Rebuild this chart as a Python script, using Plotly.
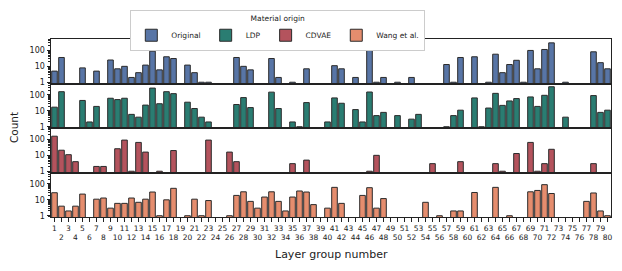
import plotly.graph_objects as go
from plotly.subplots import make_subplots

layer_groups = list(range(1, 81))
series_names = ["Original", "LDP", "CDVAE", "Wang et al."]
series_colors = ["#5875a6", "#2a7d72", "#b4535d", "#e58d6e"]

original_counts = {1: 5, 2: 36, 5: 8, 7: 5, 9: 25, 10: 7, 11: 10, 12: 2, 13: 4, 14: 12, 15: 90,
                   16: 6, 17: 40, 18: 31, 20: 12, 21: 4, 22: 1, 23: 1, 27: 36, 28: 10, 29: 6,
                   32: 31, 33: 2, 35: 1, 37: 7, 41: 11, 42: 7, 44: 2, 46: 200, 47: 1, 48: 2,
                   50: 1, 52: 2, 57: 13, 58: 1, 59: 36, 61: 40, 63: 1, 64: 58, 65: 4, 66: 13,
                   67: 24, 68: 1, 69: 100, 70: 7, 71: 115, 72: 300, 74: 1, 78: 82, 79: 17, 80: 7}
ldp_counts = {1: 17, 2: 160, 5: 45, 6: 2, 7: 19, 9: 62, 10: 51, 11: 62, 12: 6, 13: 4, 14: 23,
              15: 270, 16: 28, 17: 160, 18: 121, 20: 35, 21: 14, 22: 4, 23: 2, 27: 25, 28: 68,
              29: 16, 32: 150, 33: 14, 35: 2, 36: 1, 37: 33, 40: 2, 41: 65, 42: 30, 44: 12,
              45: 2, 46: 153, 47: 5, 48: 8, 50: 5, 52: 3, 53: 6, 57: 1, 58: 5, 59: 11, 61: 65,
              62: 1, 63: 15, 64: 126, 65: 22, 66: 42, 67: 59, 69: 75, 70: 19, 71: 95, 72: 328,
              74: 4, 78: 91, 79: 8, 80: 11}
cdvae_counts = {1: 160, 2: 21, 3: 11, 4: 4, 7: 2, 8: 2, 10: 26, 11: 91, 12: 1, 13: 65, 14: 16,
                16: 1, 18: 20, 23: 91, 26: 16, 27: 4, 35: 3, 37: 5, 46: 1, 47: 10, 55: 3, 59: 4,
                64: 3, 65: 1, 67: 13, 69: 65, 70: 1, 71: 3, 72: 24, 78: 3}
wang_counts = {1: 28, 2: 4, 3: 2, 4: 4, 5: 23, 7: 11, 8: 13, 9: 3, 10: 6, 11: 6, 12: 13, 13: 7,
               14: 11, 15: 31, 16: 1, 17: 10, 18: 53, 20: 1, 21: 11, 22: 1, 23: 9, 26: 1, 27: 19,
               28: 32, 29: 8, 30: 3, 31: 15, 32: 32, 33: 8, 34: 2, 35: 15, 36: 36, 37: 31, 38: 5,
               40: 3, 41: 61, 42: 6, 45: 19, 46: 58, 47: 3, 48: 12, 54: 7, 56: 1, 58: 2, 59: 2,
               61: 29, 64: 61, 66: 1, 69: 32, 70: 39, 71: 90, 72: 25, 77: 8, 78: 27, 79: 2, 80: 1}

y_tick_values = [1, 10, 100]
y_tick_labels = ["1", "10", "100"]
x_tick_labels = [str(g) if g % 2 == 1 else "<br>" + str(g) for g in layer_groups]

all_counts = [original_counts, ldp_counts, cdvae_counts, wang_counts]

FONT = "DejaVu Sans"
fig = make_subplots(rows=4, cols=1, shared_xaxes=True, vertical_spacing=0)

for i, (name, color, counts) in enumerate(zip(series_names, series_colors, all_counts)):
    ys = [counts.get(g) for g in layer_groups]
    fig.add_trace(go.Bar(
        x=layer_groups, y=ys, name=name,
        marker=dict(color=color, line=dict(color="#2b2b2b", width=1)),
        showlegend=True,
    ), row=i + 1, col=1)

minor_vals = [v * m for m in (1, 10, 100) for v in range(2, 10)] + [0.9]

for r in range(1, 5):
    fig.update_yaxes(
        type="log", range=[-0.08, 2.72],
        tickvals=y_tick_values, ticktext=y_tick_labels,
        ticks="outside", ticklen=3.5, tickwidth=1, tickcolor="#222",
        minor=dict(ticks="outside", ticklen=2, tickwidth=0.8, tickcolor="#222",
                   tickvals=minor_vals, showgrid=False),
        showline=True, mirror=True, linecolor="#222", linewidth=1,
        showgrid=False, zeroline=False,
        tickfont=dict(family=FONT, size=8, color="#222"),
        row=r, col=1)
    fig.update_xaxes(
        range=[0.5, 80.5],
        showline=True, mirror=True, linecolor="#222", linewidth=1,
        showgrid=False, zeroline=False,
        tickvals=layer_groups, ticktext=x_tick_labels,
        ticks="outside" if r == 4 else "", ticklen=3.5, tickwidth=1, tickcolor="#222",
        showticklabels=(r == 4),
        tickangle=0,
        tickfont=dict(family=FONT, size=7.5, color="#222"),
        row=r, col=1)

# page body has an 8px default margin; size the figure so it fits the 622x271 window
fig.update_layout(
    width=614, height=263,
    margin=dict(l=43, r=11, t=31, b=54, autoexpand=False),
    paper_bgcolor="white", plot_bgcolor="white",
    bargap=0.2,
    font=dict(family=FONT, size=8, color="#222"),
    legend=dict(
        orientation="h", x=0.405, xanchor="center", y=1.163, yanchor="top",
        title=dict(text="Material origin", side="top center", font=dict(family=FONT, size=7.5)),
        font=dict(family=FONT, size=7.5),
        bordercolor="#cccccc", borderwidth=1, bgcolor="white",
        itemwidth=30, tracegroupgap=0,
    ),
    annotations=[
        dict(text="Count", x=-0.066, y=0.5, xref="paper", yref="paper",
             textangle=-90, showarrow=False, xanchor="center", yanchor="middle",
             font=dict(family=FONT, size=10.5, color="#222")),
        dict(text="Layer group number", x=0.5, y=-0.208, xref="paper", yref="paper",
             showarrow=False, xanchor="center", yanchor="middle",
             font=dict(family=FONT, size=11, color="#222")),
    ],
)

fig.write_html("out.html")
